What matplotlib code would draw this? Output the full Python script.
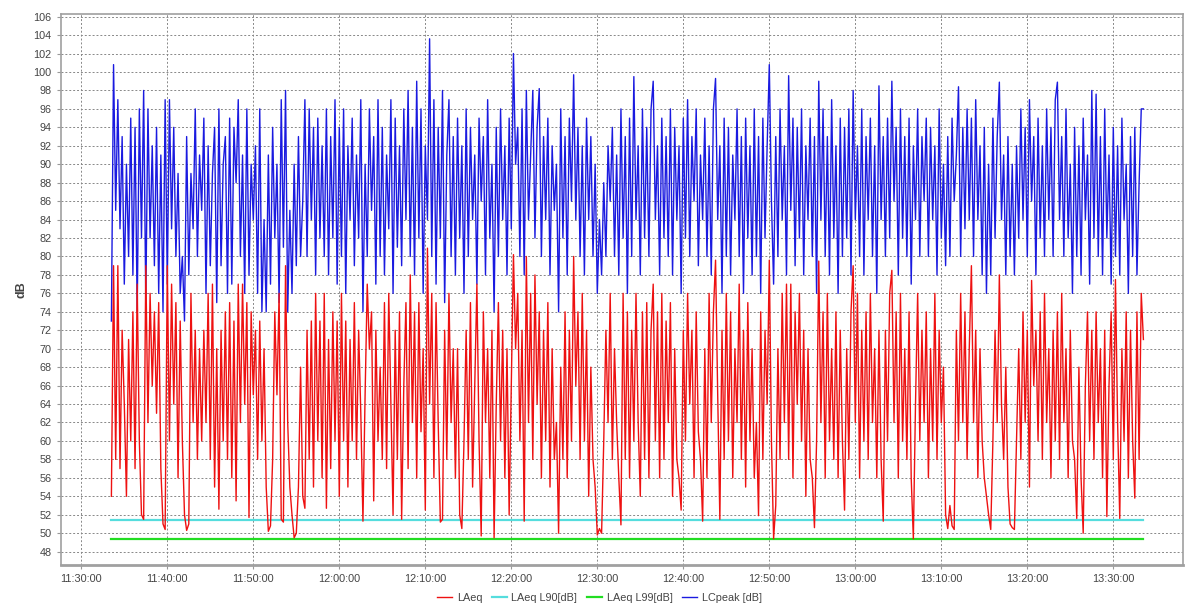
import matplotlib
matplotlib.use("Agg")
import matplotlib.pyplot as plt
import matplotlib.dates as mdates
import numpy as np
from datetime import datetime, timedelta

plt.rcParams['font.family'] = ['Liberation Sans', 'DejaVu Sans']

# ---- data (15 s sampling, 11:33:30 -> 13:33:30) ----
start_time = datetime(2024, 1, 1, 11, 33, 30)
step_seconds = 15

laeq = [
    54, 79, 58, 79, 57, 72, 64, 54, 71, 60, 74, 57, 77, 60, 52, 51.5, 79, 62, 76, 66,
    74, 63, 75, 57, 51, 50.4, 79, 60, 77, 64, 75, 56, 73, 60, 52, 50.3, 51, 76, 62, 72,
    58, 70, 60, 72, 62, 76, 58, 77, 55, 70, 52.6, 72, 60, 74, 58, 75, 56, 73, 53.5, 77,
    62, 77, 64, 75, 51.7, 74, 65, 72, 58, 73, 60, 70, 55, 50.2, 50.8, 58, 74, 65, 76, 51.5,
    51.2, 79, 62, 55, 52, 49.5, 50, 55, 68, 54, 52.7, 72, 58, 73, 55, 76, 60, 73, 56, 76,
    52.7, 71, 57, 74, 60, 73, 54, 76, 60, 73, 55, 71, 60, 75, 58, 72, 63, 51.3, 65, 77,
    70, 74, 53.5, 72, 60, 68, 58, 75, 57, 76, 64, 52, 72, 58, 74, 51.5, 66, 75, 57, 78,
    62, 74, 56, 75, 61, 70, 52.5, 80.9, 64, 76, 56, 75, 62, 51.2, 51.5, 72, 58, 76, 62, 70,
    56, 70, 52, 50.5, 60, 72, 58, 75, 55, 66, 77, 60, 49.7, 74, 62, 70, 56, 72, 49.5, 64,
    75, 60, 72, 56, 70, 52, 66, 80.2, 70, 76, 60, 72, 51.3, 80, 62, 76, 58, 78, 64, 74,
    56, 72, 60, 75, 55, 70, 58, 62, 50, 68, 58, 74, 56, 72, 60, 80, 66, 74, 58, 76,
    60, 72, 54, 68, 58, 55, 49.8, 50.5, 50, 60, 72, 62, 76, 58, 70, 62, 56, 50.9, 76, 58,
    74, 56, 72, 60, 76, 62, 54, 74, 58, 75, 56, 72, 77, 60, 74, 56, 76, 58, 73, 62,
    75, 54, 70, 58, 56, 52.5, 72, 60, 76, 64, 72, 56, 74, 61, 58, 51.3, 70, 56, 76, 62,
    74, 79.6, 65, 51.5, 72, 58, 76, 60, 74, 56, 70, 62, 77, 58, 72, 55, 75, 60, 70, 56,
    62, 51.9, 74, 58, 72, 64, 79.6, 60, 49.4, 53, 70, 58, 76, 62, 77, 58, 77, 56, 74, 64,
    76, 60, 72, 54, 70, 58, 56, 50.6, 60, 79.5, 62, 74, 56, 76, 60, 70, 58, 74, 56, 72,
    60, 52.5, 70, 58, 74, 79, 62, 76, 56, 72, 60, 74, 58, 76, 62, 70, 56, 72, 58, 51.3,
    72, 60, 76, 78.5, 62, 74, 56, 76, 60, 70, 58, 74, 56, 49.4, 64, 76, 60, 72, 62, 74,
    56, 70, 60, 76, 58, 72, 62, 68, 52, 50.5, 53, 50.8, 50.4, 72, 60, 76, 62, 74, 58, 70,
    79, 62, 72, 56, 70, 60, 56, 54, 52, 50.4, 60, 72, 62, 78, 64, 58, 68, 55, 51, 50.6,
    50.4, 60, 70, 58, 74, 62, 72, 55, 77.4, 66, 72, 60, 74, 58, 76, 62, 70, 56, 72, 60,
    74, 58, 76, 62, 70, 56, 72, 60, 58, 51.6, 68, 56, 50, 66, 74, 60, 72, 58, 74, 62,
    70, 56, 72, 51.8, 66, 74, 58, 77.5, 62, 51.6, 70, 60, 74, 56, 72, 60, 53.8, 74, 58, 76,
    71,
]

lcpeak = [
    73, 100.8, 85, 97, 83, 93, 77, 90, 80, 95, 78, 94, 74, 96, 82, 98, 75, 96, 82, 92,
    79, 94, 76, 91, 74, 97, 77, 97, 83, 94, 80, 89, 76, 80, 73, 93, 78, 89, 83, 96,
    80, 91, 85, 95, 76, 92, 79, 89, 94, 75, 96, 79, 90, 93, 76, 95, 77, 94, 88, 97,
    80, 91, 76, 96, 78, 90, 84, 92, 76, 96, 74, 84, 74, 91, 77, 94, 82, 90, 75, 97,
    81, 98, 74, 85, 76, 90, 79, 93, 80, 86, 97, 80, 96, 84, 94, 78, 95, 82, 92, 80,
    96, 78, 93, 82, 97, 77, 94, 80, 96, 76, 92, 84, 95, 79, 91, 82, 97, 74, 90, 80,
    96, 85, 93, 77, 97, 80, 94, 78, 91, 83, 97, 76, 95, 81, 92, 79, 96, 84, 98, 80,
    94, 78, 99, 82, 96, 76, 92, 84, 103.6, 80, 97, 77, 94, 82, 98, 75, 91, 97, 80, 93,
    78, 95, 82, 92, 76, 96, 80, 94, 84, 91, 77, 95, 86, 93, 78, 97, 82, 90, 74, 94,
    80, 96, 84, 92, 78, 95, 83, 102, 90, 94, 80, 96, 78, 98, 84, 91, 98, 82, 94, 98.2,
    80, 93, 84, 95, 78, 92, 85, 90, 74, 96, 82, 93, 78, 95, 86, 99.7, 84, 94, 80, 92,
    78, 95, 84, 93, 80, 90, 76, 84, 78, 88, 80, 92, 86, 94, 80, 91, 78, 96, 82, 93,
    76, 95, 80, 99.5, 84, 92, 78, 96, 82, 94, 80, 96, 99, 84, 92, 78, 95, 82, 93, 80,
    96, 78, 94, 84, 92, 76, 95, 82, 97, 80, 93, 86, 96, 79, 91, 84, 95, 80, 92, 78,
    96, 99.3, 84, 92, 76, 95, 80, 94, 78, 91, 84, 96, 80, 93, 76, 95, 82, 92, 78, 96,
    80, 93, 76, 95, 82, 92, 100.8, 86, 77, 93, 80, 96, 84, 92, 78, 99.6, 85, 95, 79, 94,
    82, 96, 78, 92, 84, 95, 80, 93, 76, 99, 84, 96, 80, 93, 78, 97, 82, 92, 76, 95,
    80, 94, 82, 96, 78, 98, 84, 92, 80, 96, 78, 93, 84, 95, 80, 92, 76, 98.5, 84, 93,
    80, 95, 82, 99, 86, 94, 78, 96, 82, 93, 80, 95, 77, 92, 84, 96, 80, 93, 86, 95,
    80, 94, 84, 92, 78, 96, 82, 90, 79, 93, 80, 95, 86, 91, 98.4, 80, 94, 83, 96, 84,
    95, 80, 97, 84, 92, 78, 94, 76, 90, 78, 95, 82, 93, 98.9, 84, 91, 78, 93, 80, 90,
    78, 92, 82, 96, 84, 94, 80, 97, 86, 93, 78, 95, 82, 92, 80, 96, 84, 94, 80, 97,
    98.9, 84, 93, 80, 96, 82, 90, 76, 94, 80, 92, 78, 95, 84, 91, 77, 98, 82, 97.6, 80,
    93, 78, 96, 82, 91, 77, 94, 80, 92, 78, 95, 84, 90, 76, 93, 80, 94, 78, 88, 96,
    96,
]

l90_value = 51.45
l99_value = 49.4

series_labels = ["LAeq", "LAeq L90[dB]", "LAeq L99[dB]", "LCpeak [dB]"]
series_colors = ["#ee1111", "#55dddd", "#22dd22", "#1a1ae0"]

# ---- figure ----
fig = plt.figure(figsize=(11.87, 6.07), dpi=100)
ax = fig.add_axes([0.0511, 0.0692, 0.9455, 0.907])

times = [start_time + timedelta(seconds=step_seconds * i) for i in range(len(laeq))]
t_first, t_last = times[0], times[-1]

h_lc, = ax.plot(times, lcpeak, color=series_colors[3], lw=1.0, zorder=2)
h_l99, = ax.plot([t_first, t_last], [l99_value, l99_value], color=series_colors[2], lw=1.6, zorder=3)
h_l90, = ax.plot([t_first, t_last], [l90_value, l90_value], color=series_colors[1], lw=1.6, zorder=3)
h_la, = ax.plot(times, laeq, color=series_colors[0], lw=1.0, zorder=4)

ax.set_xlim(datetime(2024, 1, 1, 11, 27, 36), datetime(2024, 1, 1, 13, 38, 6))
ax.set_ylim(46.55, 106.24)
ax.set_yticks(np.arange(48, 107, 2))
ax.xaxis.set_major_locator(mdates.MinuteLocator(byminute=range(0, 60, 10)))
ax.xaxis.set_major_formatter(mdates.DateFormatter('%H:%M:%S'))

ax.grid(True, color='#888888', linestyle=(0, (2, 2)), lw=0.7)
ax.set_axisbelow(True)
for s in ax.spines.values():
    s.set_color('#a0a0a0')
    s.set_linewidth(1.2)
ax.spines['bottom'].set_linewidth(2.0)
ax.tick_params(axis='both', colors='#999999', labelcolor='#444444', labelsize=7.8,
               length=3, width=0.8)
ax.set_ylabel("dB", fontsize=9, fontweight='bold', color='#444444', labelpad=4)

leg = fig.legend([h_la, h_l90, h_l99, h_lc], series_labels, loc='center',
                 bbox_to_anchor=(0.505, 0.015), ncol=4, frameon=False, fontsize=7.8,
                 handlelength=1.4, handletextpad=0.4, columnspacing=0.9)
for t in leg.get_texts():
    t.set_color('#444444')

fig.savefig("out.png", dpi=100)
